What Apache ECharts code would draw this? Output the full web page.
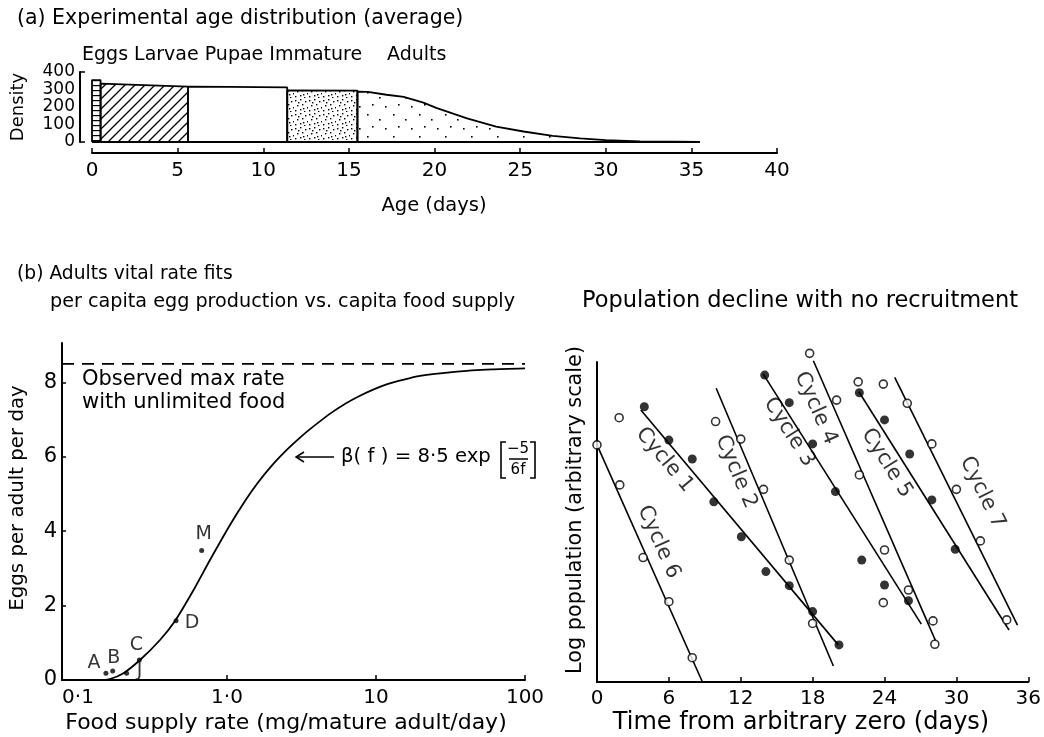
<!DOCTYPE html>
<html><head><meta charset="utf-8">
<script src="https://cdn.jsdelivr.net/npm/echarts@6/dist/echarts.min.js"></script>
<style>html,body{margin:0;padding:0;background:#fff}#c{width:1044px;height:737px}</style>
</head><body><div id="c"></div>
<script>
// ---------- Panel (a): experimental age distribution ----------
const ageTicks = [0, 5, 10, 15, 20, 25, 30, 35, 40];
const densityTicks = [0, 100, 200, 300, 400];
const densityBracket = [0, 400];
const eggsAge = [0, 0, 0.5, 0.5, 0];
const eggsDensity = [0, 354, 354, 0, 0];
const larvaeAge = [0.5, 0.5, 5.6, 5.6, 0.5];
const larvaeDensity = [0, 333, 317, 0, 0];
const pupaeAge = [5.6, 5.6, 8, 11.4, 11.4, 5.6];
const pupaeDensity = [0, 317, 315, 312, 0, 0];
const immatureAge = [11.4, 11.4, 15.5, 15.5, 11.4];
const immatureDensity = [0, 295, 293, 0, 0];
const adultsAge = [15.5, 15.5, 16.1, 17.2, 18.2, 19.35, 20.1, 21, 21.9, 23.6, 25.2, 26.9, 28.5, 30, 32, 34, 35.5, 15.5];
const adultsDensity = [0, 288, 287, 270, 258, 225, 195, 165, 135, 88, 60, 35, 21, 11, 4, 1.5, 0, 0];

// ---------- Panel (b) left: egg production vs food supply ----------
const foodTickValues = [0.1, 1, 10, 100];
const foodTickLabels = ['0·1', '1·0', '10', '100'];
const eggTicks = [0, 2, 4, 6, 8];
const foodRate = [0.0781, 0.1405, 0.164, 0.2005, 0.2607, 0.3551, 0.4477, 0.5912, 0.7689, 1.047, 1.321, 1.615, 2.005, 2.527, 3.09, 3.606, 5.145, 7.456, 12.04, 19.74, 34.96, 60.05, 100];
const eggRateFit = [0, 0, 0.027, 0.175, 0.538, 1.075, 1.586, 2.392, 3.226, 4.167, 4.812, 5.309, 5.769, 6.191, 6.516, 6.745, 7.215, 7.602, 7.96, 8.175, 8.293, 8.352, 8.379];
const obsNames = ['A', 'B', 'J', 'C', 'D', 'M'];
const obsFood = [0.154, 0.171, 0.212, 0.258, 0.455, 0.676];
const obsEggs = [0.18, 0.24, 0.18, 0.54, 1.59, 3.48];
const maxRate = 8.5;

// ---------- Panel (b) right: population decline ----------
const dayTicks = [0, 6, 12, 18, 24, 30, 36];
const openDays = [0, 1.85, 1.9, 3.85, 6.0, 7.95, 9.9, 12.0, 13.9, 16.05, 17.75, 20.0, 21.9, 26.0, 28.2, 21.8, 23.9, 24.0, 23.9, 28.05, 25.9, 27.95, 30.0, 32.0, 34.2, 18.0];
const openLogPop = [74.1, 82.6, 61.6, 38.9, 25.1, 7.6, 81.4, 75.9, 60.2, 38.1, 102.7, 88.1, 64.7, 28.75, 11.8, 93.8, 93.1, 41.25, 24.8, 19.1, 87.1, 74.4, 60.2, 44.1, 19.4, 18.3];
const filledDays = [3.95, 6.0, 7.95, 9.75, 12.05, 14.1, 16.05, 14.0, 16.05, 18.0, 19.9, 22.1, 24.0, 26.0, 21.9, 24.0, 26.1, 27.95, 29.9, 18.0, 20.2];
const filledLogPop = [86.0, 75.6, 69.7, 56.3, 45.4, 34.5, 30.1, 95.9, 87.3, 74.4, 59.5, 38.1, 30.3, 25.4, 90.4, 81.9, 71.25, 56.9, 41.5, 22.0, 11.6];
const cycleNames = ['Cycle 1', 'Cycle 2', 'Cycle 3', 'Cycle 4', 'Cycle 5', 'Cycle 6', 'Cycle 7'];
const cycleStartDay = [3.66, 9.95, 13.88, 18.06, 21.86, 0, 24.85];
const cycleStartPop = [85, 91.8, 96.2, 100.4, 90.7, 74.1, 95.2];
const cycleEndDay = [20.14, 19.73, 27.07, 28.24, 34.39, 8.8, 35.1];
const cycleEndPop = [11.6, 5, 18.1, 13.1, 16.25, 0, 17.8];
const cycleLabelDay = [5.65, 11.61, 16.04, 18.26, 24.19, 5.15, 32.17];
const cycleLabelPop = [69.4, 65.7, 78.1, 85.6, 68.4, 43.75, 59.2];

// ---------- styles (kept apart from data) ----------
const FONT = 'DejaVu Sans';
const cycleLabelAngle = [-50, -67, -57.6, -66, -57.7, -66, -63.6];
const obsLabelOffset = {A: [-12, -10], B: [1, -13], J: [13, -2], C: [-3, -15], D: [16, 2], M: [2, -16]};

function pattern(w, h, draw) {
  const c = document.createElement('canvas');
  c.width = w; c.height = h;
  const g = c.getContext('2d');
  g.fillStyle = '#fff'; g.fillRect(0, 0, w, h);
  g.fillStyle = '#000'; g.strokeStyle = '#000';
  draw(g);
  return {image: c, repeat: 'repeat'};
}
const stripes = pattern(8, 5, g => { g.fillRect(0, 0, 8, 1.2); });
const hatch = pattern(10, 10, g => {
  g.lineWidth = 1.3;
  g.beginPath();
  g.moveTo(-1, 11); g.lineTo(11, -1);
  g.moveTo(-6, 6); g.lineTo(6, -6);
  g.moveTo(4, 16); g.lineTo(16, 4);
  g.stroke();
});
const denseDots = pattern(14, 14, g => {
  [[1,2],[6,1],[11,3],[3,7],[8,6],[13,9],[1,12],[6,11],[10,13],[4,4],[9,10]].forEach(p => g.fillRect(p[0], p[1], 1.4, 1.4));
});
const sparseDots = pattern(26, 22, g => {
  [[3,4],[15,9],[8,16],[21,18]].forEach(p => g.fillRect(p[0], p[1], 1.6, 1.6));
});

const stages = [
  {age: eggsAge, dens: eggsDensity, fill: stripes},
  {age: larvaeAge, dens: larvaeDensity, fill: hatch},
  {age: pupaeAge, dens: pupaeDensity, fill: '#fff'},
  {age: immatureAge, dens: immatureDensity, fill: denseDots},
  {age: adultsAge, dens: adultsDensity, fill: sparseDots}
];

const axisLineStyle = {color: '#000', width: 2};
const tickStyle = {color: '#000', width: 1.5};

const series = [];
stages.forEach(s => {
  series.push({
    type: 'line', xAxisIndex: 0, yAxisIndex: 0, symbol: 'none', silent: true,
    data: s.age.map((a, i) => [a, s.dens[i]]),
    lineStyle: {color: '#000', width: 1.8},
    areaStyle: {color: s.fill, opacity: 1}
  });
});
series.push({
  type: 'line', xAxisIndex: 1, yAxisIndex: 1, symbol: 'none', smooth: 0.2,
  data: foodRate.map((f, i) => [f, eggRateFit[i]]),
  lineStyle: {color: '#000', width: 1.8}
});
series.push({
  type: 'line', xAxisIndex: 1, yAxisIndex: 1, symbol: 'none',
  data: [[foodRate[0], maxRate], [foodRate[foodRate.length - 1], maxRate]],
  lineStyle: {color: '#000', width: 1.8, type: [12, 8]}
});
series.push({
  type: 'scatter', xAxisIndex: 1, yAxisIndex: 1, symbol: 'circle', symbolSize: 5,
  itemStyle: {color: '#000'},
  data: obsNames.map((n, i) => ({
    name: n, value: [obsFood[i], obsEggs[i]],
    label: {offset: obsLabelOffset[n]}
  })),
  label: {show: true, position: 'inside', formatter: p => p.name, fontFamily: FONT, fontSize: 19, color: '#000'}
});
cycleNames.forEach((n, i) => {
  series.push({
    type: 'line', xAxisIndex: 2, yAxisIndex: 2, symbol: 'none', clip: false,
    data: [[cycleStartDay[i], cycleStartPop[i]], [cycleEndDay[i], cycleEndPop[i]]],
    lineStyle: {color: '#000', width: 1.6}
  });
});
series.push({
  type: 'scatter', xAxisIndex: 2, yAxisIndex: 2, symbol: 'circle', symbolSize: 8, clip: false,
  itemStyle: {color: '#fff', borderColor: '#000', borderWidth: 1.6},
  data: openDays.map((d, i) => [d, openLogPop[i]]), z: 5
});
series.push({
  type: 'scatter', xAxisIndex: 2, yAxisIndex: 2, symbol: 'circle', symbolSize: 9, clip: false,
  itemStyle: {color: '#000'},
  data: filledDays.map((d, i) => [d, filledLogPop[i]]), z: 5
});
series.push({
  type: 'scatter', xAxisIndex: 2, yAxisIndex: 2, symbolSize: 0, clip: false,
  data: cycleNames.map((n, i) => ({
    name: n, value: [cycleLabelDay[i], cycleLabelPop[i]],
    label: {rotate: cycleLabelAngle[i]}
  })),
  label: {show: true, position: 'inside', formatter: p => p.name, fontFamily: FONT, fontSize: 21, color: '#000', align: 'center', verticalAlign: 'middle'}
});

function txt(text, x, y, size, opts) {
  opts = opts || {};
  return {
    type: 'text', x: x, y: y, rotation: opts.rot || 0, silent: true,
    style: {text: text, fill: '#000', fontFamily: FONT, fontSize: size,
      align: opts.align || 'left', verticalAlign: 'middle', textAlign: opts.align || 'left', textVerticalAlign: 'middle'}
  };
}
function seg(pts, w) {
  return {type: 'polyline', silent: true, shape: {points: pts}, style: {stroke: '#000', lineWidth: w || 1.6, fill: null}};
}

const graphics = [
  txt('(a) Experimental age distribution (average)', 17, 19, 20.5),
  txt('Eggs Larvae Pupae Immature', 82, 55, 19),
  txt('Adults', 387, 55, 19),
  txt('Density', 18, 107, 18, {rot: Math.PI / 2, align: 'center'}),
  txt('Age (days)', 434, 206, 19.5, {align: 'center'}),
  txt('(b) Adults vital rate fits', 17, 274, 18.7),
  txt('per capita egg production vs. capita food supply', 50, 302, 19.2),
  txt('Population decline with no recruitment', 800, 301, 22.5, {align: 'center'}),
  txt('Eggs per adult per day', 18, 498, 19.8, {rot: Math.PI / 2, align: 'center'}),
  txt('Food supply rate (mg/mature adult/day)', 286, 723, 22, {align: 'center'}),
  txt('Log population (arbitrary scale)', 576, 510, 20.8, {rot: Math.PI / 2, align: 'center'}),
  txt('Time from arbitrary zero (days)', 801, 723, 24, {align: 'center'}),
  txt('Observed max rate', 82, 380, 21),
  txt('with unlimited food', 82, 403, 21),
  // equation annotation
  seg([[296, 457], [334, 457]], 1.5),
  seg([[304, 452], [296, 457], [304, 462]], 1.5),
  txt('β( f ) = 8·5 exp', 341, 457, 19.7),
  seg([[506, 442], [501, 442], [501, 478], [506, 478]], 1.6),
  seg([[530, 442], [535, 442], [535, 478], [530, 478]], 1.6),
  txt('−5', 518, 449, 15, {align: 'center'}),
  seg([[509, 459], [528, 459]], 1.5),
  txt('6f', 518, 470, 15, {align: 'center'})
];

const option = {
  animation: false,
  backgroundColor: '#fff',
  textStyle: {fontFamily: FONT, color: '#000'},
  grid: [
    {left: 92, top: 72, width: 685, height: 70},
    {left: 62, top: 343, width: 463, height: 337},
    {left: 597, top: 362, width: 433, height: 320}
  ],
  xAxis: [
    {gridIndex: 0, type: 'value', min: ageTicks[0], max: ageTicks[ageTicks.length - 1], interval: 5, offset: 11,
      axisLine: {onZero: false, lineStyle: axisLineStyle}, axisTick: {inside: true, length: 5, lineStyle: tickStyle},
      axisLabel: {fontSize: 20, color: '#000', margin: 8, fontFamily: FONT, customValues: ageTicks}, splitLine: {show: false}},
    {gridIndex: 1, type: 'log', logBase: 10, min: foodRate[0], max: 100,
      axisLine: {onZero: false, lineStyle: axisLineStyle},
      axisTick: {inside: true, length: 5, lineStyle: tickStyle, customValues: foodTickValues.slice(1)},
      axisLabel: {fontSize: 20, color: '#000', margin: 8, fontFamily: FONT, customValues: foodTickValues,
        formatter: v => { const k = foodTickValues.findIndex(t => Math.abs(t - v) / t < 1e-3); return k >= 0 ? foodTickLabels[k] : ''; }},
      splitLine: {show: false}},
    {gridIndex: 2, type: 'value', min: 0, max: 36, interval: 6,
      axisLine: {onZero: false, lineStyle: axisLineStyle}, axisTick: {inside: true, length: 5, lineStyle: tickStyle},
      axisLabel: {fontSize: 20, color: '#000', margin: 7, fontFamily: FONT, customValues: dayTicks}, splitLine: {show: false}}
  ],
  yAxis: [
    {gridIndex: 0, type: 'value', min: 0, max: 400, interval: 100, offset: 12,
      axisLine: {show: true, onZero: false, lineStyle: axisLineStyle},
      axisTick: {show: true, inside: true, length: 5, lineStyle: tickStyle, customValues: densityBracket},
      axisLabel: {fontSize: 17, lineHeight: 17, color: '#000', margin: 5, fontFamily: FONT, customValues: densityTicks,
        showMinLabel: true, showMaxLabel: true, hideOverlap: false}, splitLine: {show: false}},
    {gridIndex: 1, type: 'value', min: 0, max: 9.06,
      axisLine: {show: true, onZero: false, lineStyle: axisLineStyle},
      axisTick: {show: true, inside: true, length: 4, lineStyle: tickStyle, customValues: eggTicks},
      axisLabel: {fontSize: 21, color: '#000', margin: 5, fontFamily: FONT, customValues: eggTicks}, splitLine: {show: false}},
    {gridIndex: 2, type: 'value', min: 0, max: 100,
      axisLine: {show: true, onZero: false, lineStyle: axisLineStyle}, axisTick: {show: false}, axisLabel: {show: false}, splitLine: {show: false}}
  ],
  series: series,
  graphic: graphics
};
const chart = echarts.init(document.getElementById('c'), null, {renderer: 'canvas'});
chart.setOption(option);
</script></body></html>
